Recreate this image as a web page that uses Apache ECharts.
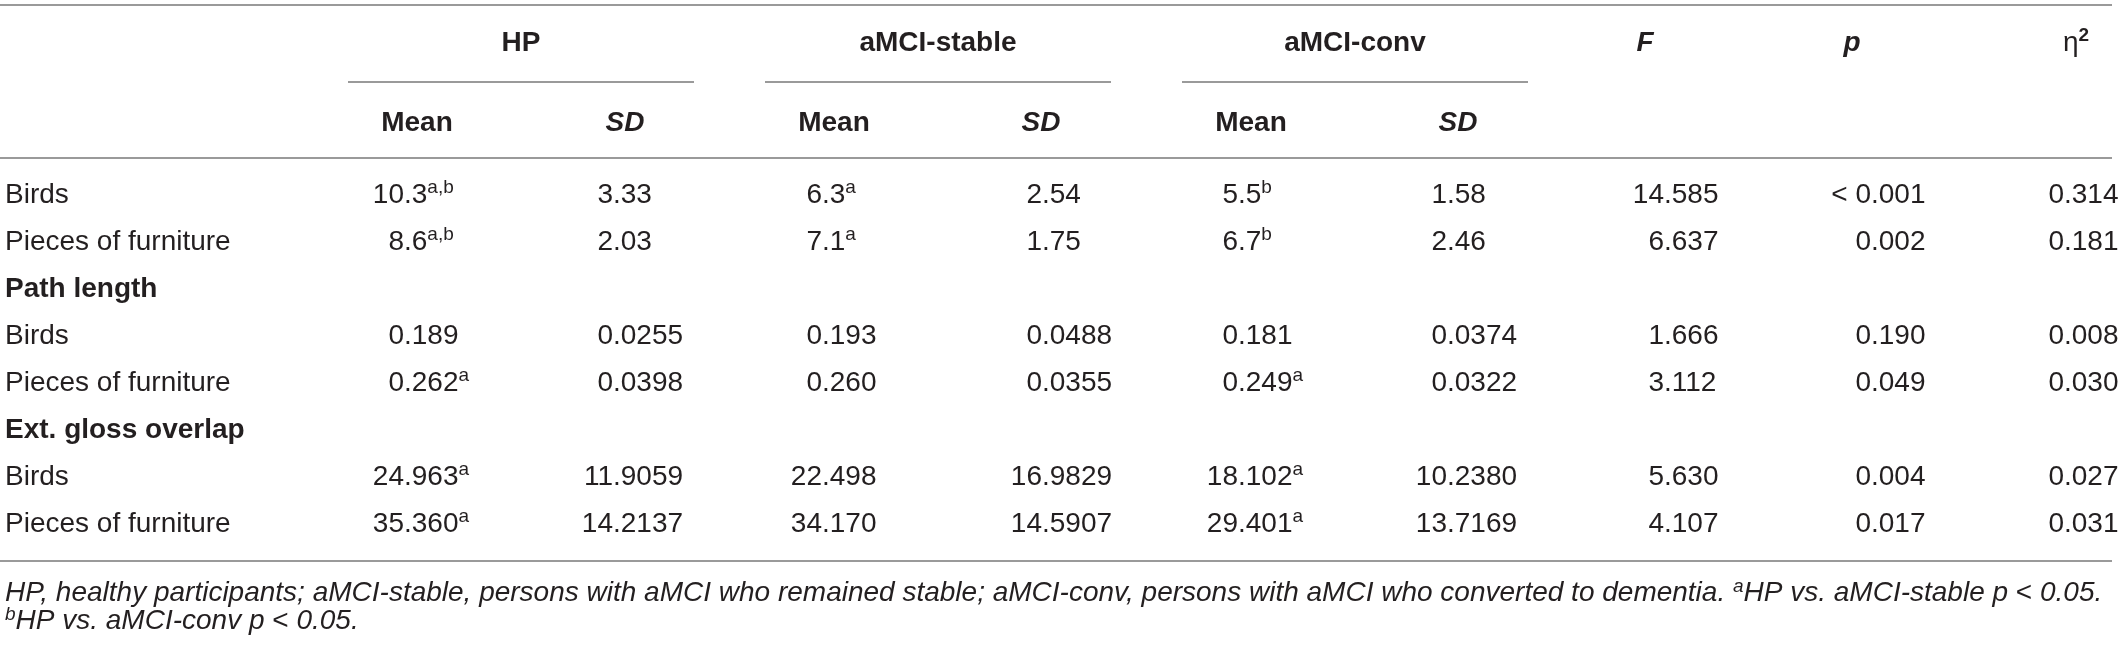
<!DOCTYPE html>
<html>
<head>
<meta charset="utf-8">
<script src="https://cdn.jsdelivr.net/npm/echarts@6/dist/echarts.min.js"></script>
<style>
  html, body { margin: 0; padding: 0; background: #fff; }
  #chart { width: 2118px; height: 648px; }
</style>
</head>
<body>
<div id="chart"></div>
<script>
// ---- table content ----
var groups = ['HP', 'aMCI-stable', 'aMCI-conv'];
var subHeads = ['Mean', 'SD'];
var rowLabels = ['Birds', 'Pieces of furniture', 'Path length', 'Birds', 'Pieces of furniture',
                 'Ext. gloss overlap', 'Birds', 'Pieces of furniture'];
var sectionRows = [2, 5];   // bold headings, no values

var hpMean      = ['10.3', '8.6', null, '0.189', '0.262', null, '24.963', '35.360'];
var hpMeanSup   = ['a,b', 'a,b', '', '', 'a', '', 'a', 'a'];
var hpSD        = ['3.33', '2.03', null, '0.0255', '0.0398', null, '11.9059', '14.2137'];
var stMean      = ['6.3', '7.1', null, '0.193', '0.260', null, '22.498', '34.170'];
var stMeanSup   = ['a', 'a', '', '', '', '', '', ''];
var stSD        = ['2.54', '1.75', null, '0.0488', '0.0355', null, '16.9829', '14.5907'];
var cvMean      = ['5.5', '6.7', null, '0.181', '0.249', null, '18.102', '29.401'];
var cvMeanSup   = ['b', 'b', '', '', 'a', '', 'a', 'a'];
var cvSD        = ['1.58', '2.46', null, '0.0374', '0.0322', null, '10.2380', '13.7169'];
var fVals       = ['14.585', '6.637', null, '1.666', '3.112', null, '5.630', '4.107'];
var pVals       = ['< 0.001', '0.002', null, '0.190', '0.049', null, '0.004', '0.017'];
var etaVals     = ['0.314', '0.181', null, '0.008', '0.030', null, '0.027', '0.031'];

var footLine1 = 'HP, healthy participants; aMCI-stable, persons with aMCI who remained stable; ' +
                'aMCI-conv, persons with aMCI who converted to dementia. ';
var footNoteA = 'HP vs. aMCI-stable p ';
var footNoteB = 'HP vs. aMCI-conv p ';

var columns = [
  [hpMean, hpMeanSup], [hpSD], [stMean, stMeanSup], [stSD],
  [cvMean, cvMeanSup], [cvSD], [fVals], [pVals], [etaVals]
];

// ---- layout ----
var FONT = '"Liberation Sans", Arial, sans-serif';
var INK = '#231f20';
var RULE = '#9a9a9a';
var decX = [404, 613, 822, 1042, 1238, 1447, 1664, 1871, 2064];   // decimal point of each column
var rowY = [195, 242, 289, 336, 383, 430, 477, 524];
var groupX = [521, 938, 1355];
var subX = [[417, 625], [834, 1041], [1251, 1458]];
var statX = [1645, 1852, 2076];
var headY = 43, subY = 123;

var cells = [];
columns.forEach(function (col, ci) {
  col[0].forEach(function (v, ri) {
    if (v == null) return;
    var k = v.indexOf('.');
    cells.push({ value: [decX[ci], rowY[ri]], intPart: v.slice(0, k), rest: v.slice(k), sup: col[1] ? col[1][ri] : '' });
  });
});

var labels = [];
rowLabels.forEach(function (t, i) {
  labels.push({ value: [5, rowY[i]], text: '{' + (sectionRows.indexOf(i) >= 0 ? 'b' : 'n') + '|' + t + '}', align: 'left' });
});
groups.forEach(function (g, i) {
  labels.push({ value: [groupX[i], headY], text: '{b|' + g + '}', align: 'center' });
  labels.push({ value: [subX[i][0], subY], text: '{b|' + subHeads[0] + '}', align: 'center' });
  labels.push({ value: [subX[i][1], subY], text: '{bi|' + subHeads[1] + '}', align: 'center' });
});
labels.push({ value: [statX[0], headY], text: '{bi|F}', align: 'center' });
labels.push({ value: [statX[1], headY], text: '{bi|p}', align: 'center' });
labels.push({ value: [statX[2], headY], text: '{n|η}{bs|2}', align: 'center' });
labels.push({ value: [5, 593], text: '{i|' + footLine1 + '}{is|a}{i|' + footNoteA + '}{m|<}{i| 0.05.}', align: 'left' });
labels.push({ value: [5, 621], text: '{is|b}{i|' + footNoteB + '}{m|<}{i| 0.05.}', align: 'left' });

var rules = [
  { value: [0, 2112, 5] }, { value: [0, 2112, 158] }, { value: [0, 2112, 561] }
];
groupX.forEach(function (x) { rules.push({ value: [x - 173, x + 173, 82] }); });

var rich = {
  n:  { fontFamily: FONT, fontSize: 28, lineHeight: 34, fill: INK },
  b:  { fontFamily: FONT, fontSize: 28, lineHeight: 34, fontWeight: 'bold', fill: INK },
  bi: { fontFamily: FONT, fontSize: 28, lineHeight: 34, fontWeight: 'bold', fontStyle: 'italic', fill: INK },
  s:  { fontFamily: FONT, fontSize: 19, lineHeight: 20, verticalAlign: 'top', fill: INK },
  bs: { fontFamily: FONT, fontSize: 19, lineHeight: 20, fontWeight: 'bold', verticalAlign: 'top', fill: INK },
  i:  { fontFamily: FONT, fontSize: 28, lineHeight: 32, fontStyle: 'italic', fill: INK },
  m:  { fontFamily: FONT, fontSize: 28, lineHeight: 32, fill: INK },
  is: { fontFamily: FONT, fontSize: 19, lineHeight: 20, fontStyle: 'italic', verticalAlign: 'top', fill: INK }
};

var chart = echarts.init(document.getElementById('chart'), null, { renderer: 'canvas' });
chart.setOption({
  animation: false,
  grid: { left: 0, right: 0, top: 0, bottom: 0 },
  xAxis: { type: 'value', min: 0, max: 2118, show: false },
  yAxis: { type: 'value', min: 0, max: 648, inverse: true, show: false },
  series: [
    {
      type: 'custom',
      data: rules,
      renderItem: function (params, api) {
        var a = api.coord([api.value(0), api.value(2)]);
        var b = api.coord([api.value(1), api.value(2)]);
        return { type: 'line', shape: { x1: a[0], y1: a[1], x2: b[0], y2: b[1] },
                 style: { stroke: RULE, lineWidth: 2 } };
      }
    },
    {
      type: 'custom',
      data: labels,
      renderItem: function (params, api) {
        var d = labels[params.dataIndex];
        var p = api.coord([api.value(0), api.value(1)]);
        return { type: 'text', x: p[0], y: p[1],
                 style: { text: d.text, rich: rich, align: d.align, verticalAlign: 'middle' } };
      }
    },
    {
      type: 'custom',
      data: cells,
      renderItem: function (params, api) {
        var d = cells[params.dataIndex];
        var p = api.coord([api.value(0), api.value(1)]);
        return { type: 'group', children: [
          { type: 'text', x: p[0], y: p[1],
            style: { text: '{n|' + d.intPart + '}', rich: rich, align: 'right', verticalAlign: 'middle' } },
          { type: 'text', x: p[0], y: p[1],
            style: { text: '{n|' + d.rest + '}' + (d.sup ? '{s|' + d.sup + '}' : ''), rich: rich,
                     align: 'left', verticalAlign: 'middle' } }
        ] };
      }
    }
  ]
});
</script>
</body>
</html>
